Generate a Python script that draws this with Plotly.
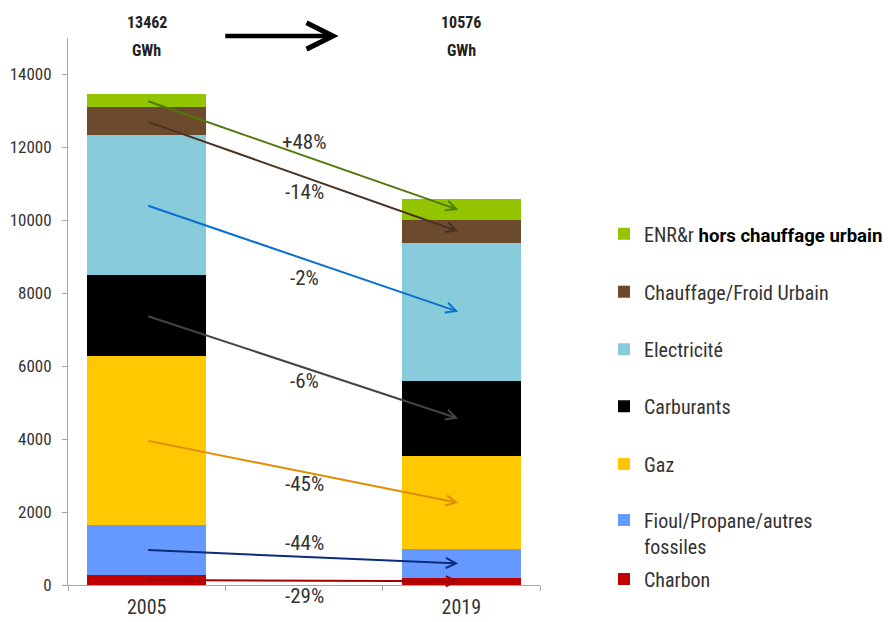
import plotly.graph_objects as go

# Consommation d'énergie finale par vecteur (GWh)
years = ["2005", "2019"]
categories = ["Charbon", "Fioul/Propane/autres<br>fossiles", "Gaz", "Carburants",
              "Electricité", "Chauffage/Froid Urbain",
              "ENR&amp;r <span style='font-family:Roboto;font-weight:bold;color:#000;font-size:18.6px'>"
              "hors chauffage urbain</span>"]
charbon = [275, 205]
fioul = [1370, 770]
gaz = [4630, 2555]
carburants = [2220, 2070]
electricite = [3840, 3790]
chauffage_urbain = [760, 620]
enr = [367, 566]
totals = [13462, 10576]
evolution_labels = ["-29%", "-44%", "-45%", "-6%", "-2%", "-14%", "+48%"]

series = [charbon, fioul, gaz, carburants, electricite, chauffage_urbain, enr]
colors = ["#C00000", "#6699FF", "#FFC800", "#000000", "#88CCDB", "#6B4A2E", "#92C400"]
arrow_colors = ["#A00000", "#0B2B7C", "#E08C00", "#444444", "#0A6FD0", "#4A3322", "#4F7A0A"]
label_y = [-301, 1151, 2767, 5589, 8411, 10767, 12137]
legend_y = [0.011, 0.095, 0.221, 0.327, 0.431, 0.536, 0.642]
Y_MAX = 15000

COND = "'Roboto Condensed', 'Liberation Sans Narrow', 'DejaVu Sans Condensed', 'Arial Narrow', sans-serif"

fig = go.Figure()
for i, (name, vals, col) in enumerate(zip(categories, series, colors)):
    lg = "legend" if i == 0 else f"legend{i + 1}"
    fig.add_trace(go.Bar(x=years, y=vals, name=name, marker=dict(color=col, line=dict(width=0)),
                         width=0.76, legend=lg, hoverinfo="skip"))

annotations = []
# Evolution arrows between segment midpoints, with their percentage labels
for i, vals in enumerate(series):
    below = [sum(s[k] for s in series[:i]) for k in range(2)]
    y0 = below[0] + vals[0] / 2
    y1 = below[1] + vals[1] / 2
    annotations.append(dict(x=1.98, y=y1, ax=0, ay=y0, xref="x", yref="y", axref="x", ayref="y",
                            text="", showarrow=True, arrowhead=5, arrowsize=1.0, arrowwidth=2,
                            arrowcolor=arrow_colors[i], standoff=0))
    annotations.append(dict(x=1, y=label_y[i] / Y_MAX, xref="x", yref="y domain",
                            text=evolution_labels[i], showarrow=False, yanchor="middle",
                            font=dict(family=COND, size=21, color="#333")))

# Totals above each bar
for k, t in enumerate(totals):
    xk = 0 if k == 0 else 2
    annotations.append(dict(x=xk, y=1.028, xref="x", yref="y domain", text=f"<b>{t}</b>",
                            showarrow=False, yanchor="middle",
                            font=dict(family=COND, size=16, color="#222")))
    annotations.append(dict(x=xk, y=0.978, xref="x", yref="y domain", text="<b>GWh</b>",
                            showarrow=False, yanchor="middle",
                            font=dict(family=COND, size=16, color="#222")))
annotations.append(dict(x=1.22, y=1.0037, ax=0.49, ay=1.0037, xref="x", yref="y domain", axref="x",
                        ayref="y domain", text="", showarrow=True, arrowhead=5, arrowsize=1.15,
                        arrowwidth=4.5, arrowcolor="#000", standoff=0))

layout_legends = {}
for i, yl in enumerate(legend_y):
    key = "legend" if i == 0 else f"legend{i + 1}"
    layout_legends[key] = dict(x=(604 - 68) / 472, y=yl, xanchor="left", yanchor="middle",
                               valign="top", bgcolor="rgba(0,0,0,0)",
                               font=dict(family=COND, size=20, color="#333"))

fig.update_layout(
    width=888, height=622,
    margin=dict(l=68, r=348, t=38, b=37, autoexpand=False),
    paper_bgcolor="white", plot_bgcolor="white",
    barmode="stack",
    showlegend=True,
    annotations=annotations,
    xaxis=dict(type="category", categoryorder="array", categoryarray=["2005", " ", "2019"],
               range=[-0.5, 2.5], tickson="boundaries", ticks="outside", ticklen=5,
               tickcolor="#A6A6A6", showline=True, linecolor="#A6A6A6", showgrid=False,
               ticklabelstandoff=4, automargin=False,
               tickfont=dict(family=COND, size=20, color="#333")),
    yaxis=dict(range=[0, Y_MAX], tickvals=list(range(0, 14001, 2000)), tickformat="d",
               ticks="outside", ticklen=5, ticklabelstandoff=7, automargin=False,
               tickcolor="#A6A6A6", showline=True, linecolor="#A6A6A6", showgrid=False,
               zeroline=False, tickfont=dict(family=COND, size=17, color="#333")),
    **layout_legends,
)

fig.write_html("out.html")
